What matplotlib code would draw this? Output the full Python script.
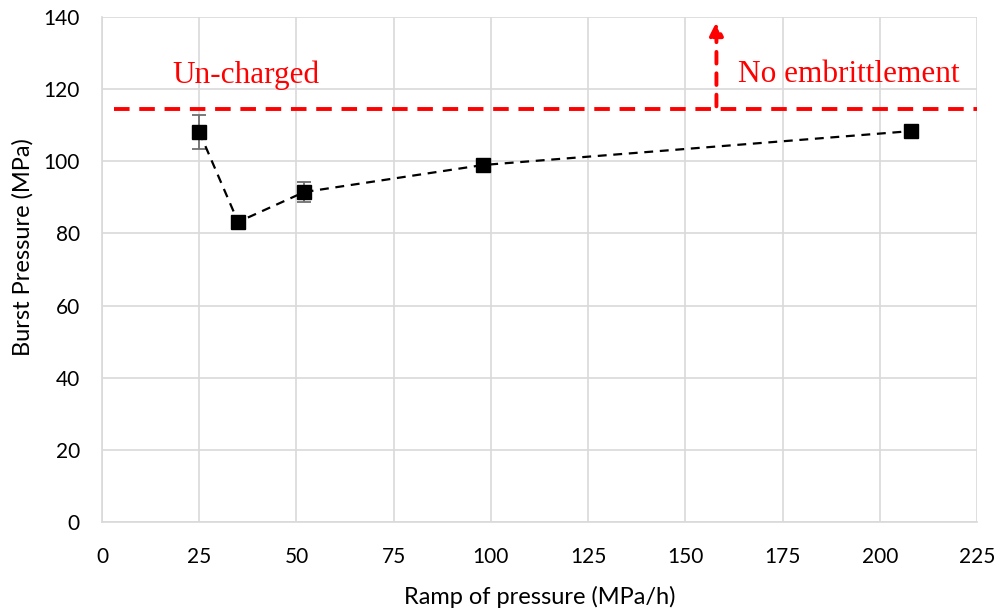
import matplotlib.pyplot as plt
import numpy as np

# Burst pressure vs. pressure ramp rate
ramp = [25, 35, 52, 98, 208]
burst = [108.2, 83.2, 91.5, 99.0, 108.4]
burst_err = [4.8, 1.0, 2.8, 0.8, 1.0]
uncharged = 114.5

plt.rcParams['font.family'] = ['Lato', 'DejaVu Sans']

fig = plt.figure(figsize=(10, 6.14), dpi=100)
ax = fig.add_axes([0.102, 0.150, 0.875, 0.822])

ax.errorbar(ramp, burst, yerr=burst_err, fmt='none', ecolor='#707070',
            elinewidth=1.3, capsize=5, capthick=1.3, zorder=3)
ax.plot(ramp, burst, color='black', linestyle=(0, (4, 3)), linewidth=1.6,
        marker='s', markersize=10, markerfacecolor='black', zorder=4)

# reference level for the uncharged specimen
ax.plot([3, 225], [uncharged, uncharged], color='red', linestyle=(0, (4, 2.5)),
        linewidth=2.8, zorder=2, clip_on=False)
ax.annotate('', xy=(158, 139.5), xytext=(158, uncharged),
            arrowprops=dict(arrowstyle='-|>', color='red', lw=2.8,
                            linestyle=(0, (3, 2.5)), mutation_scale=20))
ax.text(18, 124, 'Un-charged', color='red', fontsize=22.5,
        family='Liberation Serif', va='center', ha='left')
ax.text(163.5, 124, 'No embrittlement', color='red', fontsize=22.5,
        family='Liberation Serif', va='center', ha='left')

ax.set_xlim(0, 225)
ax.set_ylim(0, 140)
ax.set_xticks(np.arange(0, 226, 25))
ax.set_yticks(np.arange(0, 141, 20))
ax.grid(True, color='#d9d9d9', linewidth=1.2)
ax.set_axisbelow(True)
ax.tick_params(length=0, labelsize=15, pad=16)
ax.tick_params(axis='x', pad=18)
for side in ['top', 'right']:
    ax.spines[side].set_visible(False)
for side in ['left', 'bottom']:
    ax.spines[side].set_color('#d9d9d9')
    ax.spines[side].set_linewidth(1.2)

ax.set_xlabel('Ramp of pressure (MPa/h)', fontsize=17, labelpad=14)
ax.set_ylabel('Burst Pressure (MPa)', fontsize=17)
ax.yaxis.set_label_coords(-0.078, 0.545)

fig.savefig('out.png', dpi=100)
